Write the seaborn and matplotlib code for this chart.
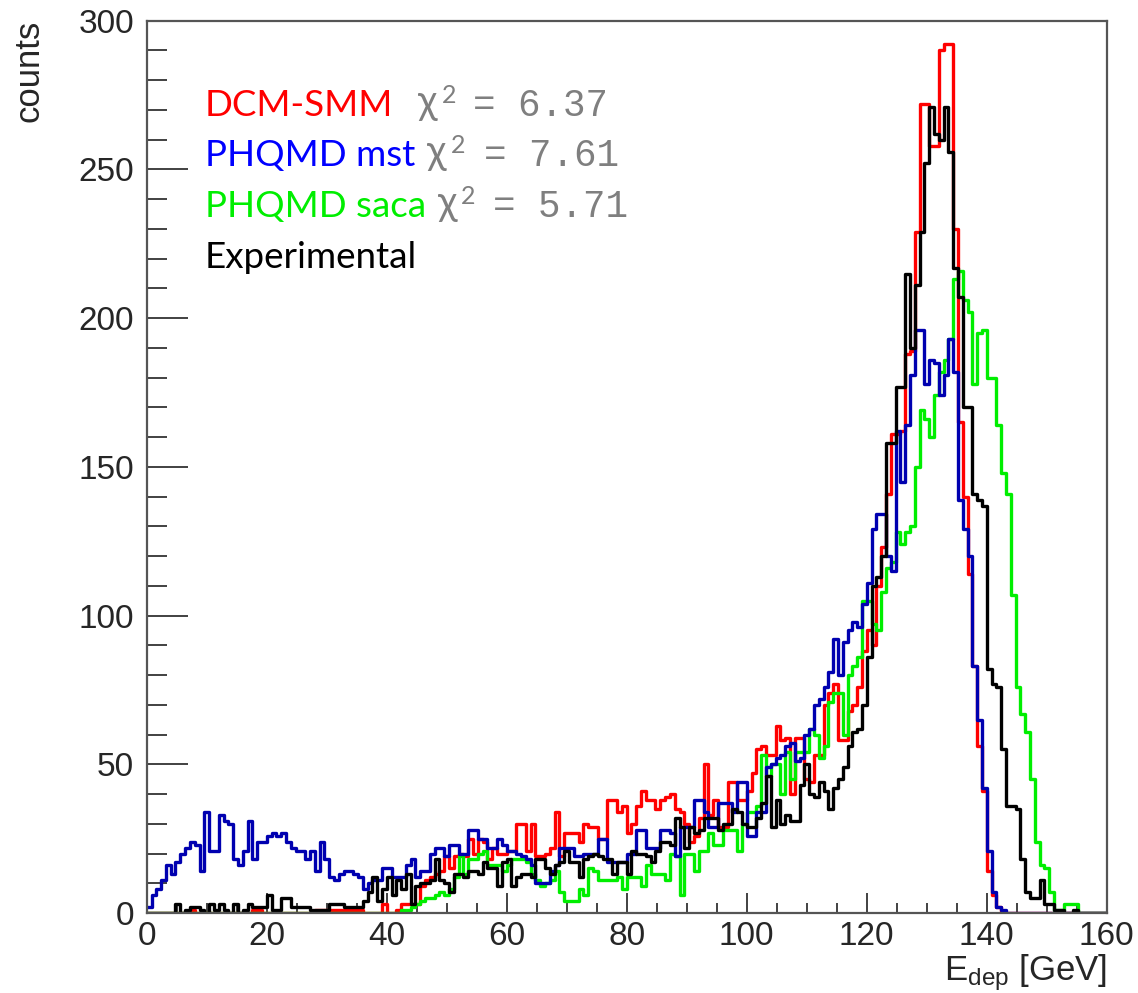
import numpy as np
import pandas as pd
import matplotlib
matplotlib.use("Agg")
import matplotlib.pyplot as plt
from matplotlib.ticker import MultipleLocator
import seaborn as sns

# ---------------- data (0.8 GeV bins, 0..160 GeV) ----------------
x_min, x_max, n_bins = 0, 160, 200

dcm_smm = [
    0, 0, 0, 0, 0, 0, 0, 0, 0, 1, 0, 0, 0, 0, 0, 0, 0, 0, 0, 0,
    0, 0, 1, 1, 0, 0, 0, 0, 0, 0, 0, 0, 0, 0, 0, 1, 1, 1, 1, 1,
    1, 1, 1, 1, 1, 0, 0, 0, 0, 3,
    0, 0, 1, 3, 3, 3, 3, 9, 11, 12, 13, 14, 19, 15, 19, 20, 19, 25, 20, 25,
    24, 18, 22, 20, 20, 21, 21, 30, 30, 21, 30, 19, 19, 20, 22, 34, 19, 27, 27, 27,
    24, 30, 29, 29, 25, 25, 38, 38, 34, 36,
    27, 30, 36, 41, 38, 38, 35, 38, 39, 40, 35, 34, 30, 24, 26, 32, 50, 33, 38, 29,
    29, 44, 44, 38, 38, 41, 47, 55, 56, 53, 53, 63, 58, 59, 40, 59, 59, 45, 44, 53,
    53, 70, 74, 77, 58, 58, 68, 70, 76, 88,
    95, 90, 110, 123, 141, 161, 161, 162, 188, 189, 229, 272, 272, 258, 258, 290, 292, 292, 230, 165,
    140, 114, 83, 56, 41, 14, 6, 2, 0, 0, 0, 0, 0, 0, 0, 0, 0, 0, 0, 0,
    0, 0, 0, 0, 0, 0, 0, 0, 0, 0,
]

phqmd_mst = [
    2, 6, 8, 11, 16, 13, 17, 20, 22, 24, 23, 14, 34, 21, 21, 33, 31, 30, 18, 16,
    21, 31, 18, 24, 24, 26, 27, 26, 27, 24, 22, 21, 21, 18, 21, 14, 24, 18, 12, 11,
    13, 14, 14, 13, 12, 8, 10, 11, 11, 15,
    15, 12, 12, 12, 16, 18, 12, 14, 14, 20, 22, 22, 19, 23, 23, 20, 20, 28, 28, 25,
    25, 22, 22, 25, 23, 21, 21, 20, 19, 18, 16, 10, 10, 10, 14, 16, 22, 22, 22, 19,
    19, 20, 20, 20, 25, 25, 17, 17, 17, 17,
    20, 20, 28, 28, 22, 22, 22, 28, 28, 27, 19, 29, 29, 29, 38, 38, 34, 29, 29, 37,
    37, 37, 34, 44, 44, 26, 26, 34, 34, 49, 50, 52, 53, 56, 57, 51, 52, 60, 62, 70,
    72, 76, 81, 92, 80, 91, 95, 98, 96, 104,
    111, 129, 134, 134, 120, 115, 162, 145, 164, 181, 196, 196, 178, 186, 185, 174, 181, 193, 182, 139,
    129, 120, 83, 65, 42, 21, 7, 2, 1, 0, 0, 0, 0, 0, 0, 0, 0, 0, 0, 0,
    0, 0, 0, 0, 0, 0, 0, 0, 0, 0,
]

phqmd_saca = [
    0, 0, 0, 0, 0, 0, 0, 0, 0, 0, 0, 0, 0, 0, 0, 0, 0, 0, 0, 0,
    0, 0, 0, 0, 0, 0, 0, 0, 0, 0, 0, 0, 0, 0, 0, 0, 0, 0, 0, 0,
    0, 0, 0, 0, 0, 0, 0, 0, 0, 0,
    0, 0, 0, 1, 1, 2, 3, 4, 5, 5, 6, 7, 6, 8, 12, 19, 13, 18, 18, 20,
    21, 16, 16, 16, 14, 16, 18, 18, 18, 17, 13, 11, 9, 10, 11, 14, 7, 4, 4, 4,
    8, 6, 15, 14, 11, 11, 11, 11, 12, 8,
    12, 12, 12, 9, 16, 13, 13, 13, 11, 20, 19, 6, 20, 20, 14, 21, 21, 27, 23, 23,
    28, 28, 28, 21, 30, 34, 34, 36, 53, 46, 50, 50, 40, 54, 45, 54, 54, 54, 62, 60,
    52, 56, 71, 74, 74, 60, 80, 83, 86, 105,
    105, 97, 95, 108, 116, 118, 128, 124, 128, 130, 150, 169, 166, 160, 174, 182, 186, 193, 213, 216,
    206, 202, 178, 195, 196, 180, 180, 164, 148, 141, 107, 76, 67, 61, 45, 24, 16, 15, 7, 1,
    1, 3, 3, 3, 0, 0, 0, 0, 0, 0,
]

experimental = [
    0, 0, 0, 0, 0, 0, 3, 0, 1, 2, 2, 1, 0, 3, 1, 3, 1, 0, 3, 0,
    1, 3, 2, 2, 2, 6, 1, 1, 5, 5, 2, 2, 2, 2, 1, 1, 1, 1, 3, 3,
    3, 2, 2, 2, 2, 4, 7, 12, 4, 8,
    12, 6, 11, 8, 13, 3, 9, 10, 10, 11, 18, 11, 10, 7, 13, 13, 12, 14, 14, 13,
    17, 15, 15, 9, 17, 18, 9, 12, 13, 13, 12, 18, 18, 15, 13, 16, 17, 21, 17, 17,
    12, 18, 19, 20, 19, 18, 18, 13, 17, 17,
    13, 21, 20, 20, 19, 17, 21, 24, 24, 23, 32, 29, 22, 29, 27, 28, 32, 32, 32, 28,
    30, 30, 35, 34, 30, 29, 29, 32, 37, 46, 29, 38, 30, 33, 31, 31, 43, 50, 40, 39,
    44, 41, 35, 42, 45, 49, 56, 61, 62, 70,
    86, 110, 113, 120, 158, 158, 177, 177, 215, 190, 211, 229, 252, 271, 262, 260, 271, 256, 217, 207,
    170, 170, 141, 139, 137, 82, 77, 76, 55, 36, 36, 35, 18, 7, 5, 5, 11, 3, 3, 1,
    1, 0, 0, 1, 0, 0, 0, 0, 0, 0,
]

legend_names = ["DCM-SMM", "PHQMD mst", "PHQMD saca", "Experimental"]
chi2_texts = ["6.37", "7.61", "5.71", None]

x_ticks = [0, 20, 40, 60, 80, 100, 120, 140, 160]
y_ticks = [0, 50, 100, 150, 200, 250, 300]

# ---------------- figure ----------------
W, H = 1138, 993
sns.set_style("ticks")
plt.rcParams["font.family"] = ["Liberation Sans", "DejaVu Sans"]
plt.rcParams["mathtext.fontset"] = "custom"
plt.rcParams["mathtext.rm"] = "Liberation Sans"
plt.rcParams["mathtext.it"] = "Liberation Sans:italic"

fig = plt.figure(figsize=(W / 100, H / 100), dpi=100)
ax = fig.add_axes([146.7 / W, (H - 913) / H, 960 / W, 892.3 / H])

edges = [x_min + (x_max - x_min) * i / n_bins for i in range(n_bins + 1)]
centers = [0.5 * (edges[i] + edges[i + 1]) for i in range(n_bins)]

draw = [
    (dcm_smm, "#ff0000"),
    (phqmd_saca, "#00ee00"),
    (phqmd_mst, "#0000b0"),
    (experimental, "#000000"),
]
for counts, col in draw:
    df = pd.DataFrame({"E": centers, "w": [float(c) for c in counts]})
    sns.histplot(data=df, x="E", weights="w", bins=edges,
                 element="step", fill=False, color=col, linewidth=2.4, ax=ax)

ax.set_xlim(0, 160)
ax.set_ylim(0, 300)
ax.set_xlabel("")
ax.set_ylabel("")
ax.set_xticks(x_ticks)
ax.set_yticks(y_ticks)
ax.xaxis.set_minor_locator(MultipleLocator(5))
ax.yaxis.set_minor_locator(MultipleLocator(10))
ax.tick_params(axis="both", which="both", direction="in", top=False, right=False,
               width=1.3, color="#333333", labelsize=24)
ax.tick_params(axis="x", which="major", length=14.4, pad=6)
ax.tick_params(axis="x", which="minor", length=7.2)
ax.tick_params(axis="y", which="major", length=29.5, pad=9)
ax.tick_params(axis="y", which="minor", length=14.4)
for side in ["left", "bottom", "top", "right"]:
    ax.spines[side].set_visible(True)
    ax.spines[side].set_linewidth(1.6)
    ax.spines[side].set_color("#555555")

# axis titles
fig.text(29 / W, 1 - 20 / H, "counts", rotation=90, ha="center", va="top", fontsize=25)
fig.text(1107 / W, 1 - 980 / H, r"E$_{\mathrm{dep}}$ [GeV]", ha="right",
         va="baseline", fontsize=25)

# legend-like annotations
label_colors = ["#ff0000", "#0000ff", "#00ee00", "#000000"]
baselines = [116, 166, 217, 268]
chi_x = [418, 427, 438]
sup_x = [442, 451, 461]
eq_x = [473, 484, 493]
for i, name in enumerate(legend_names):
    fig.text(205 / W, 1 - baselines[i] / H, name, color=label_colors[i],
             fontsize=26.5, family=["Lato", "DejaVu Sans"], va="baseline", ha="left")
    if chi2_texts[i] is not None:
        fig.text(chi_x[i] / W, 1 - (baselines[i] - 2) / H, "χ", color="#7f7f7f",
                 fontsize=29, family=["Lato", "DejaVu Sans"], va="baseline", ha="left")
        fig.text(sup_x[i] / W, 1 - (baselines[i] - 13) / H, "2", color="#7f7f7f",
                 fontsize=18, family=["Lato", "DejaVu Sans"], va="baseline", ha="left")
        fig.text(eq_x[i] / W, 1 - baselines[i] / H, "= " + chi2_texts[i], color="#7f7f7f",
                 fontsize=27, family=["Liberation Mono", "DejaVu Sans Mono"],
                 va="baseline", ha="left")

fig.savefig("out.png", dpi=100)
